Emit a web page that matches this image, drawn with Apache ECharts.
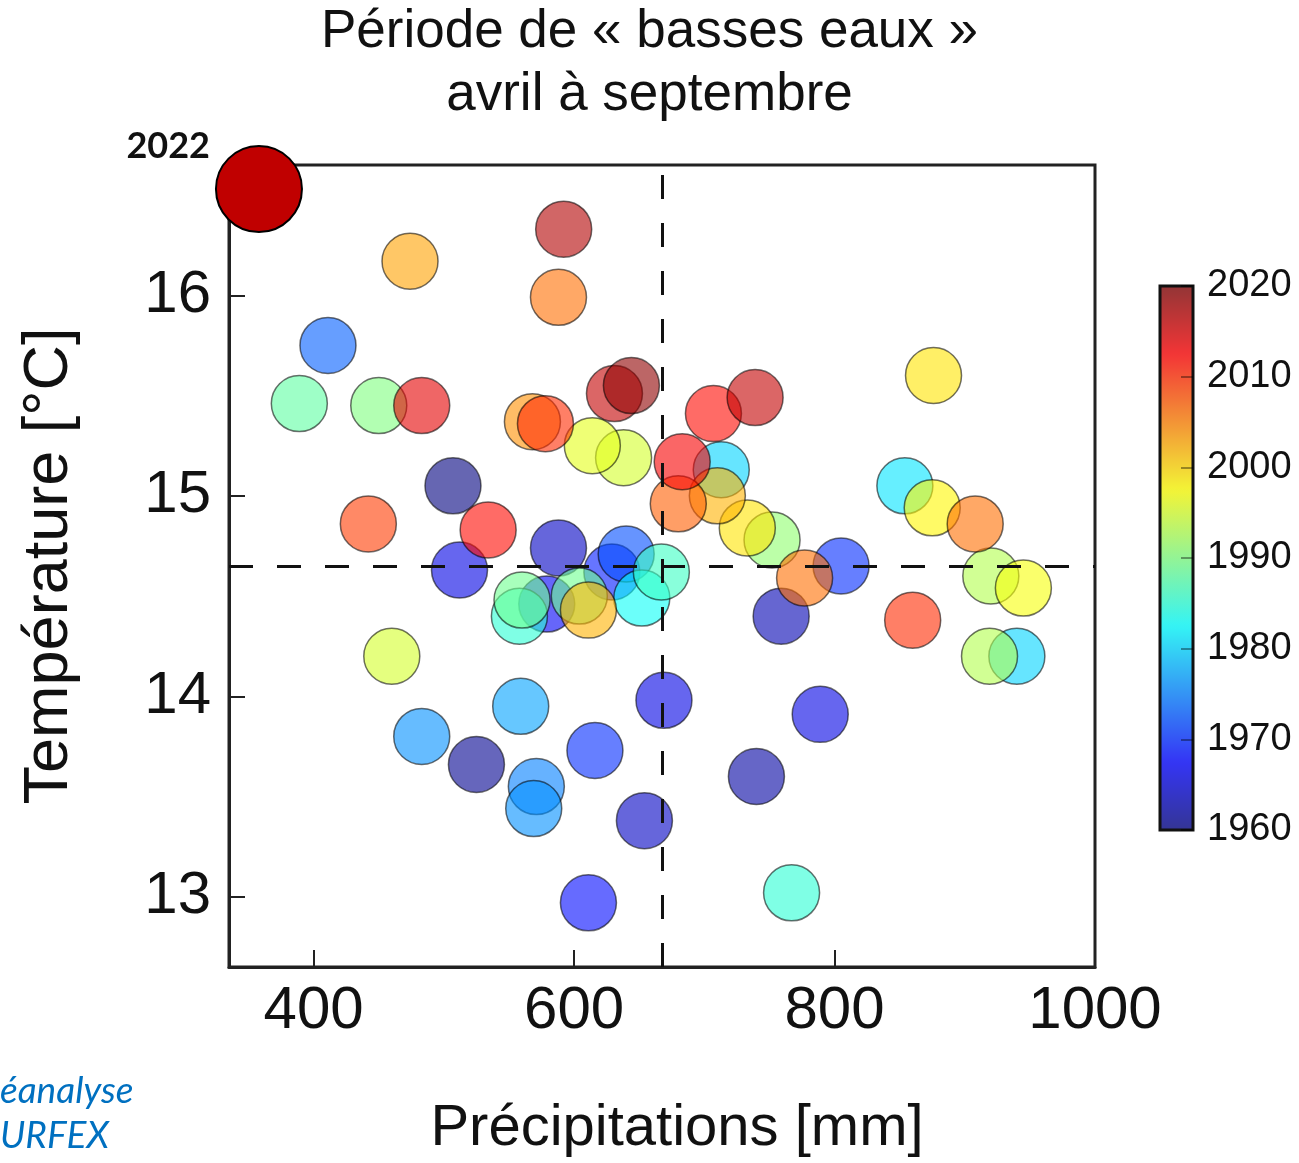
<!DOCTYPE html>
<html lang="fr">
<head>
<meta charset="utf-8">
<title>Période de basses eaux</title>
<script src="https://cdn.jsdelivr.net/npm/echarts@6/dist/echarts.min.js"></script>
<style>
  html, body { margin: 0; padding: 0; background: #fff; }
  #chart { width: 1299px; height: 1163px; }
</style>
</head>
<body>
<div id="chart"></div>
<script>
// Données (précipitations avril-septembre, température moyenne, année)
const precipitations = [507, 525, 740, 759, 588, 654, 512, 669, 789, 579, 611, 629, 616, 805, 640, 411, 571, 569, 483, 559,
  713, 940, 854, 652, 558, 767, 667, 389, 560, 604, 450, 752, 920, 919, 638, 460, 614, 945, 875, 876,
  733, 611, 710, 474, 568, 588, 908, 777, 680, 442, 578, 860, 534, 707, 683, 483, 631, 739, 592, 644]
const temperatures = [15.05, 13.66, 13.60, 14.40, 14.74, 13.38, 14.63, 13.98, 13.91, 14.46, 12.97, 14.62, 13.73, 14.65, 14.71, 15.75, 13.55, 13.44, 13.80, 13.95,
  15.13, 14.20, 15.05, 14.49, 14.40, 13.02, 14.62, 15.46, 14.48, 14.50, 15.45, 14.78, 14.60, 14.20, 15.19, 14.20, 15.25, 14.54, 14.94, 15.60,
  14.84, 14.43, 15.00, 16.17, 15.37, 15.99, 14.86, 14.59, 14.96, 14.86, 15.36, 14.38, 14.83, 15.41, 15.17, 15.45, 15.51, 15.49, 16.33, 15.55]
const annees = [1960, 1961, 1962, 1963, 1964, 1964, 1966, 1966, 1966, 1967, 1968, 1969, 1970, 1970, 1972, 1973, 1975, 1976, 1976, 1977,
  1980, 1980, 1981, 1983, 1985, 1985, 1986, 1988, 1989, 1989, 1990, 1991, 1993, 1993, 1995, 1995, 1996, 1997, 1998, 1999,
  1999, 2002, 2002, 2003, 2004, 2006, 2006, 2006, 2007, 2009, 2010, 2010, 2012, 2012, 2013, 2014, 2016, 2016, 2017, 2019]

// Année 2022 mise en avant
const precip2022 = [358]
const temp2022 = [16.53]
const annee2022 = ['2022']

// Moyennes (lignes pointillées)
const precipMoyenne = 668
const tempMoyenne = 14.65

// Graduations
const ticksPrecip = [400, 600, 800, 1000]
const ticksTemp = [13, 14, 15, 16]

// Palette "jet" avec transparence
const jet = ['#00007F', '#0000FF', '#007FFF', '#00FFFF', '#7FFF7F', '#FFFF00', '#FF7F00', '#FF0000', '#7F0000']
const toRgba = (hex, a) => {
  const n = parseInt(hex.slice(1), 16)
  return `rgba(${(n >> 16) & 255},${(n >> 8) & 255},${n & 255},${a})`
}

const points = precipitations.map((p, i) => [p, temperatures[i], annees[i]])
const points2022 = precip2022.map((p, i) => [p, temp2022[i], annee2022[i]])

const FONT = '"Liberation Sans", Arial, sans-serif'
const plain = (v) => String(v)

const chart = echarts.init(document.getElementById('chart'))

chart.setOption({
  animation: false,
  backgroundColor: '#fff',
  textStyle: { fontFamily: FONT },
  title: {
    text: 'Période de « basses eaux »\navril à septembre',
    left: 'center',
    top: -4,
    textStyle: { fontFamily: FONT, fontSize: 53, lineHeight: 63, fontWeight: 'normal', color: '#111' }
  },
  grid: [
    {
      left: 229, top: 165, width: 866, height: 808,
      show: true, borderColor: '#222', borderWidth: 3, backgroundColor: 'transparent'
    },
    {
      // cadre de la barre de couleurs
      left: 1160, top: 286, width: 33, height: 544,
      show: true, borderColor: '#111', borderWidth: 3, backgroundColor: 'transparent', z: 10
    }
  ],
  xAxis: [
    {
      type: 'value', gridIndex: 0, min: 335, max: 1000,
      name: 'Précipitations [mm]', nameLocation: 'middle', nameGap: 133,
      nameTextStyle: { fontSize: 58, color: '#111', padding: [0, 0, 0, 30] },
      axisLine: { show: true, lineStyle: { color: '#222', width: 3 } },
      axisTick: { show: true, inside: true, length: 17, customValues: ticksPrecip, lineStyle: { color: '#222', width: 2 } },
      axisLabel: { fontSize: 60, color: '#111', margin: 14, customValues: ticksPrecip, formatter: plain },
      splitLine: { show: false }
    },
    { type: 'value', gridIndex: 1, show: false, min: 0, max: 1 }
  ],
  yAxis: [
    {
      type: 'value', gridIndex: 0, min: 12.65, max: 16.65,
      name: 'Température [°C]', nameLocation: 'middle', nameGap: 148,
      nameTextStyle: { fontSize: 63, color: '#111' },
      axisLine: { show: true, lineStyle: { color: '#222', width: 3 } },
      axisTick: { show: true, inside: true, length: 16, customValues: ticksTemp, lineStyle: { color: '#222', width: 2 } },
      axisLabel: { fontSize: 60, color: '#111', margin: 18, customValues: ticksTemp, formatter: plain },
      splitLine: { show: false }
    },
    {
      // échelle des années à droite de la barre de couleurs
      type: 'value', gridIndex: 1, position: 'right', min: 1960, max: 2020, interval: 10,
      z: 11,
      axisLine: { show: false, onZero: false },
      axisTick: { show: true, inside: true, length: 12, lineStyle: { color: 'rgba(0,0,0,0.5)', width: 1.5 } },
      axisLabel: { fontSize: 38, color: '#111', margin: 14, formatter: plain },
      splitLine: { show: false }
    }
  ],
  visualMap: {
    type: 'continuous',
    seriesIndex: 1,
    dimension: 2,
    min: 1960,
    max: 2020,
    calculable: false,
    hoverLink: false,
    orient: 'vertical',
    left: 1160,
    top: 286,
    padding: 0,
    itemWidth: 33,
    itemHeight: 544,
    text: null,
    showLabel: false,
    inRange: { color: jet.map(c => toRgba(c, 0.75)) }
  },
  series: [
    {
      // lignes moyennes, sous les points
      type: 'scatter',
      xAxisIndex: 0, yAxisIndex: 0,
      data: [],
      z: 1,
      markLine: {
        silent: true,
        symbol: 'none',
        label: { show: false },
        lineStyle: { color: '#111', width: 3, type: [24, 24] },
        data: [{ xAxis: precipMoyenne }, { yAxis: tempMoyenne }]
      }
    },
    {
      type: 'scatter',
      xAxisIndex: 0, yAxisIndex: 0,
      data: points,
      symbolSize: 56,
      z: 2,
      itemStyle: { borderColor: 'rgba(0,0,0,0.7)', borderWidth: 1.5 }
    },
    {
      type: 'scatter',
      xAxisIndex: 0, yAxisIndex: 0,
      data: points2022,
      symbolSize: 86,
      z: 3,
      clip: false,
      itemStyle: { color: '#C00000', borderColor: '#000', borderWidth: 2, opacity: 1 },
      label: {
        show: true,
        position: 'left',
        distance: 5,
        offset: [0, -43],
        formatter: (p) => p.value[2],
        fontFamily: 'Lato, "Open Sans", sans-serif',
        fontWeight: 'bold',
        fontSize: 36,
        color: '#111'
      }
    }
  ],
  graphic: [
    {
      type: 'text', left: 0, top: 1073,
      style: { text: 'éanalyse', font: 'italic 37px Lato, "Open Sans", sans-serif', fill: '#0070C0' }
    },
    {
      type: 'text', left: 0, top: 1118,
      style: { text: 'URFEX', font: 'italic 37px Lato, "Open Sans", sans-serif', fill: '#0070C0' }
    }
  ]
})
</script>
</body>
</html>
